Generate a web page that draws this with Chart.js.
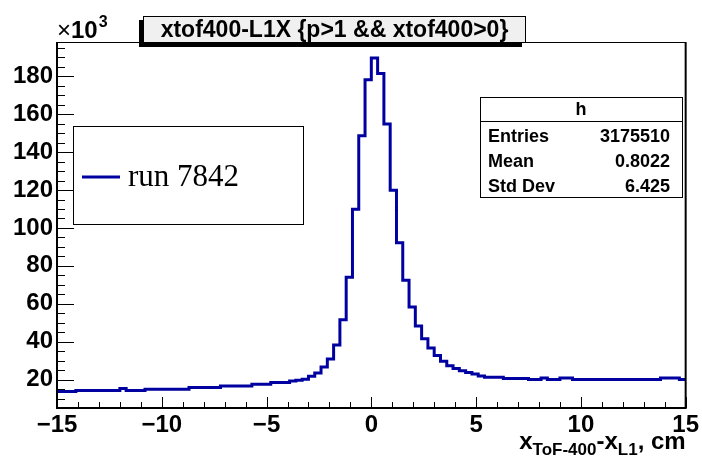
<!DOCTYPE html>
<html>
<head>
<meta charset="utf-8">
<script src="https://cdn.jsdelivr.net/npm/chart.js@4.4.1/dist/chart.umd.min.js"></script>
<style>
  html, body { margin: 0; padding: 0; background: #ffffff; }
  canvas { display: block; }
</style>
</head>
<body>
<canvas id="c" width="702" height="462"></canvas>
<script>
// ---- data (values in thousands of entries) ----
const histTitle = 'xtof400-L1X {p>1 && xtof400>0}';
const seriesLabel = 'run 7842';
const binLowEdge = -15;
const binWidth = 0.3;
const binCounts = [
  13.7, 13.7, 13.7, 14.2, 14.2, 14.2, 14.2, 14.2, 14.2, 14.2,
  15.3, 14.2, 14.2, 14.2, 14.9, 14.9, 14.9, 14.9, 14.9, 14.9,
  14.9, 15.8, 15.8, 15.8, 15.8, 15.8, 16.6, 16.6, 16.6, 16.6,
  16.6, 17.5, 17.5, 17.5, 18.4, 18.4, 18.4, 19.3, 19.7, 20.2,
  21.8, 23.5, 26.6, 30.8, 38.3, 51.5, 74.0, 109.8, 148.6, 178.2,
  189.6, 181.5, 154.8, 119.9, 92.2, 72.4, 58.3, 48.2, 41.6, 36.7,
  32.7, 29.6, 27.3, 25.8, 24.7, 23.7, 22.9, 21.9, 21.2, 21.2,
  21.2, 20.5, 20.5, 20.5, 20.5, 20.0, 20.0, 20.8, 20.0, 20.0,
  20.8, 20.8, 20.0, 20.0, 20.0, 20.0, 20.0, 20.0, 20.0, 20.0,
  20.0, 20.0, 20.0, 20.0, 20.0, 20.0, 20.8, 20.8, 20.8, 20.0
];
const xTickValues = [-15, -10, -5, 0, 5, 10, 15];
const xMinorStep = 1;
const yTickValues = [20, 40, 60, 80, 100, 120, 140, 160, 180];
const yMinorStep = 5;
const xRange = [-15, 15];
const yRange = [5, 198.1];
const yExponentBase = '\u00d710';
const yExponent = '3';
const xAxisTitleParts = [['x', false], ['ToF-400', true], ['-x', false], ['L1', true], [', cm', false]];
const statsName = 'h';
const statsLabels = ['Entries', 'Mean', 'Std Dev'];
const statsValues = ['3175510', '0.8022', '6.425'];

// ---- build points for a step histogram ----
const points = binCounts.map((v, i) => ({ x: binLowEdge + binWidth * i, y: v }));
points.push({ x: binLowEdge + binWidth * binCounts.length, y: binCounts[binCounts.length - 1] });

const SANS = '"Liberation Sans", Arial, Helvetica, sans-serif';
const SERIF = '"Liberation Serif", "Times New Roman", serif';
const LINE_COLOR = '#0000a0';

function fmtTick(v) {
  return v < 0 ? '\u2212' + Math.abs(v) : String(v);
}

const decor = {
  id: 'rootDecor',
  beforeDatasetsDraw(chart) {
    const { ctx, chartArea: a, scales: { x, y } } = chart;
    ctx.save();
    ctx.strokeStyle = '#000';
    ctx.lineWidth = 1;
    ctx.beginPath();
    for (let v = xRange[0]; v <= xRange[1] + 1e-9; v += xMinorStep) {
      const px = Math.round(x.getPixelForValue(v)) + 0.5;
      const major = xTickValues.some(t => Math.abs(t - v) < 1e-9);
      const len = major ? 11 : 6;
      ctx.moveTo(px, a.bottom);
      ctx.lineTo(px, a.bottom - len);
    }
    for (let v = yMinorStep; v <= yRange[1]; v += yMinorStep) {
      if (v < yRange[0]) continue;
      const py = Math.round(y.getPixelForValue(v)) + 0.5;
      const major = yTickValues.indexOf(v) >= 0;
      const len = major ? 17 : 8;
      ctx.moveTo(a.left, py);
      ctx.lineTo(a.left + len, py);
    }
    ctx.stroke();
    ctx.restore();
  },
  afterDatasetsDraw(chart) {
    const { ctx, chartArea: a } = chart;
    ctx.save();
    // frame
    ctx.strokeStyle = '#000';
    ctx.lineWidth = 1;
    ctx.beginPath();
    ctx.moveTo(a.left, a.top + 0.5); ctx.lineTo(a.right, a.top + 0.5);
    ctx.stroke();
    ctx.lineWidth = 2;
    ctx.beginPath();
    ctx.moveTo(a.left, a.top); ctx.lineTo(a.left, a.bottom);
    ctx.lineTo(a.right, a.bottom); ctx.lineTo(a.right, a.top);
    ctx.stroke();

    // exponent label
    ctx.fillStyle = '#000';
    ctx.textBaseline = 'alphabetic';
    ctx.textAlign = 'left';
    ctx.font = '24px ' + SANS;
    ctx.fillText('\u00d7', a.left, 38);
    let wx = ctx.measureText('\u00d7').width;
    ctx.font = 'bold 24px ' + SANS;
    ctx.fillText(yExponentBase.slice(1), a.left + wx, 38);
    wx += ctx.measureText(yExponentBase.slice(1)).width;
    ctx.font = 'bold 16px ' + SANS;
    ctx.fillText(yExponent, a.left + wx + 1, 27);

    // title box with shadow
    const tb = { x: 143, y: 16, w: 383, h: 27 };
    ctx.fillStyle = '#000';
    ctx.fillRect(tb.x - 4, tb.y + 4, tb.w, tb.h);
    ctx.fillStyle = '#f0f0f0';
    ctx.fillRect(tb.x, tb.y, tb.w, tb.h);
    ctx.lineWidth = 1;
    ctx.strokeStyle = '#000';
    ctx.strokeRect(tb.x + 0.5, tb.y + 0.5, tb.w - 1, tb.h - 1);
    ctx.fillStyle = '#000';
    ctx.font = 'bold 23px ' + SANS;
    ctx.textAlign = 'center';
    ctx.textBaseline = 'middle';
    ctx.fillText(histTitle, tb.x + tb.w / 2, tb.y + tb.h / 2 + 1);

    // legend box
    const lb = { x: 73, y: 126, w: 230, h: 98 };
    ctx.fillStyle = '#fff';
    ctx.fillRect(lb.x, lb.y, lb.w, lb.h);
    ctx.strokeStyle = '#000';
    ctx.lineWidth = 1;
    ctx.strokeRect(lb.x + 0.5, lb.y + 0.5, lb.w, lb.h);
    const ds = chart.data.datasets[0];
    ctx.strokeStyle = ds.borderColor;
    ctx.lineWidth = 3;
    ctx.beginPath();
    ctx.moveTo(lb.x + 9, lb.y + 51);
    ctx.lineTo(lb.x + 47, lb.y + 51);
    ctx.stroke();
    ctx.fillStyle = '#000';
    ctx.font = '31px ' + SERIF;
    ctx.textAlign = 'left';
    ctx.textBaseline = 'middle';
    ctx.fillText(ds.label, lb.x + 55, lb.y + 52);

    // stats box
    const sb = { x: 480, y: 97, w: 202, h: 100 };
    ctx.fillStyle = '#fff';
    ctx.fillRect(sb.x, sb.y, sb.w, sb.h);
    ctx.strokeStyle = '#000';
    ctx.lineWidth = 1;
    ctx.strokeRect(sb.x + 0.5, sb.y + 0.5, sb.w, sb.h);
    ctx.beginPath();
    ctx.moveTo(sb.x, sb.y + 24.5);
    ctx.lineTo(sb.x + sb.w, sb.y + 24.5);
    ctx.stroke();
    ctx.fillStyle = '#000';
    ctx.font = 'bold 18px ' + SANS;
    ctx.textAlign = 'center';
    ctx.textBaseline = 'middle';
    ctx.fillText(statsName, sb.x + sb.w / 2, sb.y + 13);
    statsLabels.forEach((lab, i) => {
      const yy = sb.y + 40 + i * 25;
      ctx.textAlign = 'left';
      ctx.fillText(lab, sb.x + 8, yy);
      ctx.textAlign = 'right';
      ctx.fillText(statsValues[i], sb.x + sb.w - 12, yy);
    });

    // x axis title (right aligned)
    const bigF = 'bold 24px ' + SANS, smallF = 'bold 17px ' + SANS;
    let total = 0;
    xAxisTitleParts.forEach(([t, sub]) => { ctx.font = sub ? smallF : bigF; total += ctx.measureText(t).width; });
    let cx = a.right - total;
    ctx.textAlign = 'left';
    ctx.textBaseline = 'alphabetic';
    xAxisTitleParts.forEach(([t, sub]) => {
      ctx.font = sub ? smallF : bigF;
      ctx.fillText(t, cx, sub ? 455 : 449);
      cx += ctx.measureText(t).width;
    });
    ctx.restore();
  }
};

new Chart(document.getElementById('c'), {
  type: 'line',
  data: {
    datasets: [{
      label: seriesLabel,
      data: points,
      borderColor: LINE_COLOR,
      borderWidth: 3,
      pointRadius: 0,
      stepped: 'before',
      fill: false,
      tension: 0
    }]
  },
  options: {
    responsive: false,
    animation: false,
    devicePixelRatio: 1,
    layout: { padding: { top: 42, right: 16, bottom: 8, left: 0 } },
    plugins: { legend: { display: false }, title: { display: false }, tooltip: { enabled: false } },
    scales: {
      x: {
        type: 'linear',
        min: xRange[0], max: xRange[1],
        grid: { display: false, drawTicks: false, tickLength: 0 },
        border: { display: false },
        afterBuildTicks: s => { s.ticks = xTickValues.map(v => ({ value: v })); },
        afterFit: s => { s.height = 46; },
        ticks: {
          autoSkip: false,
          maxRotation: 0,
          padding: 3,
          color: '#000',
          font: { family: SANS, size: 24, weight: 'bold' },
          callback: v => fmtTick(v)
        }
      },
      y: {
        type: 'linear',
        min: yRange[0], max: yRange[1],
        grid: { display: false, drawTicks: false, tickLength: 0 },
        border: { display: false },
        afterBuildTicks: s => { s.ticks = yTickValues.map(v => ({ value: v })); },
        afterFit: s => { s.width = 57; },
        ticks: {
          autoSkip: false,
          padding: 4,
          color: '#000',
          font: { family: SANS, size: 24, weight: 'bold' },
          callback: v => String(v)
        }
      }
    }
  },
  plugins: [decor]
});
</script>
</body>
</html>
